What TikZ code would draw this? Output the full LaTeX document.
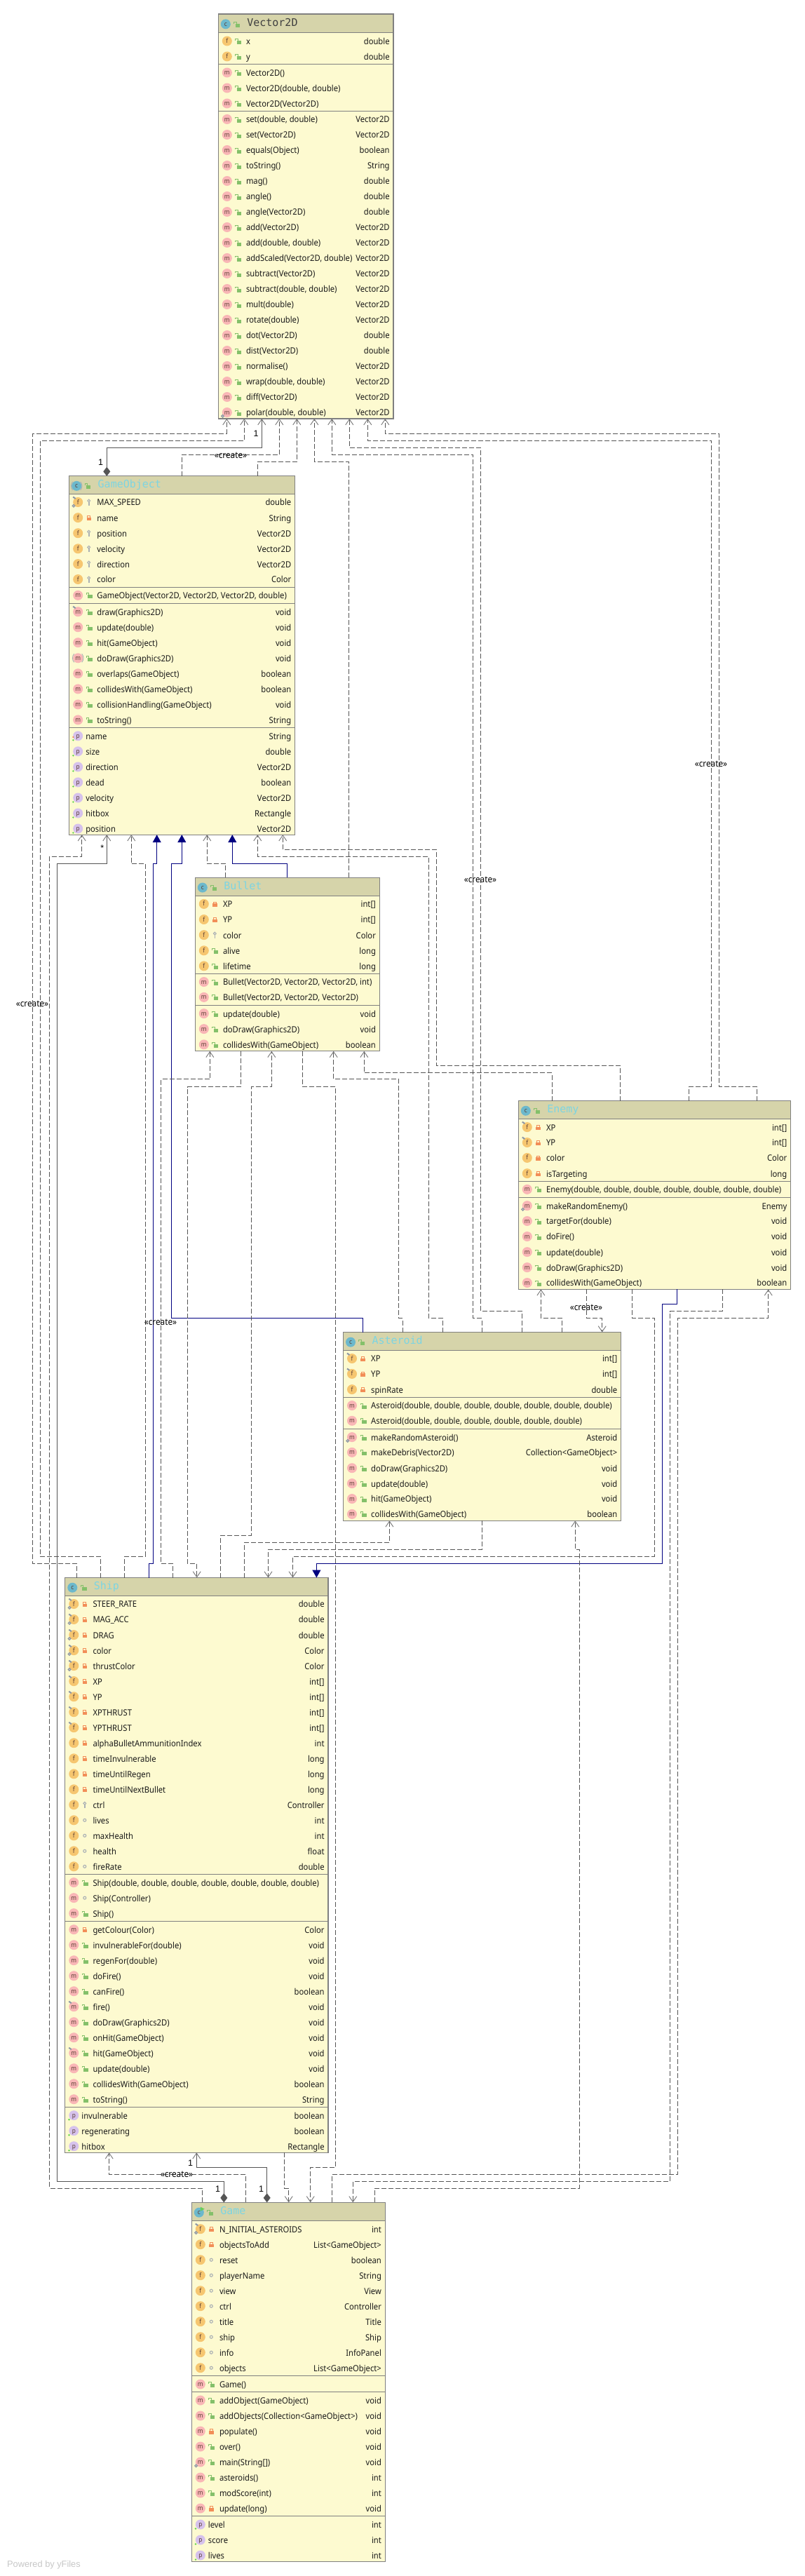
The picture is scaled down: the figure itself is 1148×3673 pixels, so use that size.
\documentclass[tikz,border=0pt]{standalone}
\usepackage{fontspec}
\setmainfont{Noto Sans}[FakeStretch=0.92]
\newfontfamily\titlefnt{DejaVu Sans Mono}
\newfontfamily\yfnt{Liberation Sans}
\usetikzlibrary{arrows.meta}
\definecolor{hdrc}{RGB}{214,212,170}
\definecolor{bodyc}{RGB}{253,250,208}
\definecolor{bordc}{RGB}{128,128,128}
\definecolor{fcol}{RGB}{246,198,112}
\definecolor{mcol}{RGB}{249,182,182}
\definecolor{pcol}{RGB}{214,194,236}
\definecolor{ccol}{RGB}{108,184,204}
\definecolor{lockg}{RGB}{132,192,106}
\definecolor{locko}{RGB}{242,142,88}
\definecolor{keyc}{RGB}{170,176,180}
\definecolor{depc}{RGB}{85,85,85}
\definecolor{inhc}{RGB}{0,0,128}
\definecolor{titc}{RGB}{125,212,226}
\definecolor{lett}{RGB}{90,60,50}
\definecolor{ovc}{RGB}{140,150,165}
\newcounter{rc}
\newcommand{\bL}{0}\newcommand{\bR}{0}
% icons (local coordinates, y down)
\newcommand{\icof}{\fill[fcol] (0,0) circle (7pt);\node[iconletter] (i\arabic{rc}) at (0,3) {f};}
\newcommand{\icom}{\fill[mcol] (0,0) circle (7pt);\node[iconletter] (i\arabic{rc}) at (0,3) {m};}
\newcommand{\ovN}{}
\newcommand{\ovF}{\draw[ovc,line width=2pt] (-7,-7.5) -- (-3.5,-5);}
\newcommand{\ovS}{\draw[ovc,line width=1.1pt,fill=bodyc!60!ovc] (-6.2,5.3) circle (1.9pt);}
\newcommand{\ovFS}{\ovF\ovS}
\newcommand{\ovA}{\draw[keyc,line width=.9pt] (-5.5,-6) .. controls (-8.5,-3) and (-8.5,3) .. (-5.5,6);\draw[keyc,line width=.9pt] (5.5,-6) .. controls (8.5,-3) and (8.5,3) .. (5.5,6);}
\newcommand{\visu}{\fill[lockg] (-1.5,-0.5) rectangle (5,4.5);\draw[lockg,line width=.9pt] (0,-0.5) -- (0,-3) -- (-3.4,-3) -- (-3.4,-0.8);}
\newcommand{\visl}{\fill[locko] (-3.2,-0.5) rectangle (3.2,4);\draw[locko,line width=1pt] (-2,-0.5) -- (-2,-2.6) -- (2,-2.6) -- (2,-0.5);}
\newcommand{\visk}{\draw[keyc,line width=1.1pt] (0,-2) circle (1.9pt);\fill[keyc] (-0.8,0) rectangle (0.8,4.5);}
\newcommand{\viso}{\draw[keyc,line width=1.1pt] (0,0) circle (2pt);}
% one row: y, kind, overlay, visibility, text, type
\newcommand{\rw}[6]{\stepcounter{rc}%
 \begin{scope}[shift={({\bL+12.5},{#1-0.5})}]\csname ico#2\endcsname\csname ov#3\endcsname\end{scope}%
 \begin{scope}[shift={({\bL+28},{#1-0.5})}]\csname vis#4\endcsname\end{scope}%
 \node[rowtext,anchor=base west] (n\arabic{rc}) at ({\bL+39.7},{#1+4.4}) {#5};%
 \node[rowtext,anchor=base east] (v\arabic{rc}) at ({\bR-5.4},{#1+4.4}) {#6};}
% property row: y, text, type
\newcommand{\rwp}[3]{\stepcounter{rc}%
 \begin{scope}[shift={({\bL+12.5},{#1-0.5})}]\fill[pcol] (0,0) circle (7pt);\node[iconletter] (i\arabic{rc}) at (0,3) {p};\fill[lockg!70!green] (-6.8,6) circle (1.3pt);\end{scope}%
 \node[rowtext,anchor=base west] (n\arabic{rc}) at ({\bL+23.6},{#1+4.4}) {#2};%
 \node[rowtext,anchor=base east] (v\arabic{rc}) at ({\bR-5.4},{#1+4.4}) {#3};}
\newcommand{\sepln}[1]{\draw[sepline] (\bL,#1) -- (\bR,#1);}
% name, L, R, T, H, B, title, title colour, extra icon code
\newcommand{\classbox}[9]{%
 \gdef\bL{#2}\gdef\bR{#3}%
 \node[boxbody,anchor=north west,minimum width={(#3-#2)*1pt},minimum height={(#6-#4)*1pt}] (#1) at (#2,#4) {};%
 \fill[hdrc] (#2,#4) rectangle (#3,#5);%
 \draw[sepline,line width=1.2pt] (#2,#5) -- (#3,#5);%
 \draw[bordc,line width=1.2pt] (#1.north west) rectangle (#1.south east);%
 \begin{scope}[shift={({#2+10.5},{(#4+#5)/2+1.2})}]\fill[ccol] (0,0) circle (7pt);\node[iconletter] (#1c) at (0,3) {c};#9\end{scope}%
 \begin{scope}[shift={({#2+25.7},{(#4+#5)/2+1.2})}]\visu\end{scope}%
 \node[classtitle,text=#8,anchor=base west] (#1t) at ({#2+41},{(#4+#5)/2+4.2}) {#7};}
\begin{document}
\begin{tikzpicture}[x=1pt,y=-1pt,
 rowtext/.style={font=\fontsize{12.2}{14}\selectfont,text=black!90,inner sep=0pt,outer sep=0pt},
 iconletter/.style={font=\fontsize{9}{10}\selectfont,text=lett,inner sep=0pt,anchor=base},
 classtitle/.style={font=\titlefnt\fontsize{15}{17}\selectfont,inner sep=0pt,outer sep=0pt},
 boxbody/.style={fill=bodyc,draw=bordc,line width=1.2pt,inner sep=0pt,outer sep=0pt,rectangle},
 sepline/.style={draw=bordc,line width=1pt},
 dep/.style={draw=depc,line width=.9pt,dash pattern=on 7pt off 3pt,-{Straight Barb[length=8pt,width=11pt,line width=.9pt,color=depc!80!white]}},
 comp/.style={draw=depc,line width=1pt,{Diamond[length=13pt,width=10pt,fill=depc,color=depc]}-{Straight Barb[length=8pt,width=11pt,line width=.9pt,color=depc!80!white]}},
 inh/.style={draw=inhc,line width=1pt,-{Triangle[length=11pt,width=12pt,fill=inhc,color=inhc]}},
 linklabel/.style={font=\fontsize{12.8}{14}\selectfont,text=black,inner sep=0pt},
 numlabel/.style={font=\yfnt\fontsize{12.5}{14}\selectfont,text=black,inner sep=0pt},
 ]
\fill[white] (0,0) rectangle (1148,3673);
\useasboundingbox (0,0) rectangle (1148,3673);

% ---------- Vector2D
\classbox{vec}{311.3}{561}{20}{46.3}{597}{Vector2D}{black!75}{}
\rw{59}{f}{N}{u}{x}{double}
\rw{81}{f}{N}{u}{y}{double}
\sepln{91}
\rw{104}{m}{N}{u}{Vector2D()}{}
\rw{126}{m}{N}{u}{Vector2D(double, double)}{}
\rw{148}{m}{N}{u}{Vector2D(Vector2D)}{}
\sepln{158}
\rw{170.5}{m}{N}{u}{set(double, double)}{Vector2D}
\rw{192.5}{m}{N}{u}{set(Vector2D)}{Vector2D}
\rw{214.5}{m}{N}{u}{equals(Object)}{boolean}
\rw{236.5}{m}{N}{u}{toString()}{String}
\rw{258.5}{m}{N}{u}{mag()}{double}
\rw{280.5}{m}{N}{u}{angle()}{double}
\rw{302.5}{m}{N}{u}{angle(Vector2D)}{double}
\rw{324.5}{m}{N}{u}{add(Vector2D)}{Vector2D}
\rw{346.5}{m}{N}{u}{add(double, double)}{Vector2D}
\rw{368.5}{m}{N}{u}{addScaled(Vector2D, double)}{Vector2D}
\rw{390.5}{m}{N}{u}{subtract(Vector2D)}{Vector2D}
\rw{412.5}{m}{N}{u}{subtract(double, double)}{Vector2D}
\rw{434.5}{m}{N}{u}{mult(double)}{Vector2D}
\rw{456.5}{m}{N}{u}{rotate(double)}{Vector2D}
\rw{478.5}{m}{N}{u}{dot(Vector2D)}{double}
\rw{500.5}{m}{N}{u}{dist(Vector2D)}{double}
\rw{522.5}{m}{N}{u}{normalise()}{Vector2D}
\rw{544.5}{m}{N}{u}{wrap(double, double)}{Vector2D}
\rw{566.5}{m}{N}{u}{diff(Vector2D)}{Vector2D}
\rw{588.5}{m}{S}{u}{polar(double, double)}{Vector2D}

% ---------- GameObject
\classbox{gobj}{98.7}{420.7}{678.8}{704.5}{1190.2}{GameObject}{titc}{\ovA}
\rw{716.5}{f}{FS}{k}{MAX\_SPEED}{double}
\rw{738.6}{f}{N}{l}{name}{String}
\rw{760.7}{f}{N}{k}{position}{Vector2D}
\rw{782.8}{f}{N}{k}{velocity}{Vector2D}
\rw{804.6}{f}{N}{k}{direction}{Vector2D}
\rw{826.5}{f}{N}{k}{color}{Color}
\sepln{837.6}
\rw{849.4}{m}{N}{u}{GameObject(Vector2D, Vector2D, Vector2D, double)}{}
\sepln{860.4}
\rw{872.7}{m}{F}{u}{draw(Graphics2D)}{void}
\rw{894.7}{m}{N}{u}{update(double)}{void}
\rw{916.7}{m}{N}{u}{hit(GameObject)}{void}
\rw{938.8}{m}{A}{u}{doDraw(Graphics2D)}{void}
\rw{960.8}{m}{N}{u}{overlaps(GameObject)}{boolean}
\rw{982.9}{m}{N}{u}{collidesWith(GameObject)}{boolean}
\rw{1004.9}{m}{N}{u}{collisionHandling(GameObject)}{void}
\rw{1026.9}{m}{N}{u}{toString()}{String}
\sepln{1037.6}
\rwp{1049.8}{name}{String}
\fill[locko] ({\bL+5.7},1051) circle (1.3pt);
\rwp{1071.8}{size}{double}
\rwp{1093.9}{direction}{Vector2D}
\rwp{1115.9}{dead}{boolean}
\rwp{1138}{velocity}{Vector2D}
\rwp{1160}{hitbox}{Rectangle}
\rwp{1182}{position}{Vector2D}

% ---------- Bullet
\classbox{bull}{278.3}{541.3}{1251.4}{1277.3}{1498.8}{Bullet}{titc}{}
\rw{1289.4}{f}{N}{l}{XP}{int[]}
\rw{1311.5}{f}{N}{l}{YP}{int[]}
\rw{1333.6}{f}{N}{k}{color}{Color}
\rw{1355.8}{f}{N}{u}{alive}{long}
\rw{1377.8}{f}{N}{u}{lifetime}{long}
\sepln{1388.5}
\rw{1400.5}{m}{N}{u}{Bullet(Vector2D, Vector2D, Vector2D, int)}{}
\rw{1422.4}{m}{N}{u}{Bullet(Vector2D, Vector2D, Vector2D)}{}
\sepln{1433.6}
\rw{1445.6}{m}{N}{u}{update(double)}{void}
\rw{1467.6}{m}{N}{u}{doDraw(Graphics2D)}{void}
\rw{1489.8}{m}{N}{u}{collidesWith(GameObject)}{boolean}

% ---------- Enemy
\classbox{enem}{739.3}{1127.7}{1569.6}{1595.5}{1838.4}{Enemy}{titc}{}
\rw{1607.6}{f}{F}{l}{XP}{int[]}
\rw{1629.5}{f}{F}{l}{YP}{int[]}
\rw{1651.4}{f}{N}{l}{color}{Color}
\rw{1673.6}{f}{N}{l}{isTargeting}{long}
\sepln{1684.4}
\rw{1696.4}{m}{N}{u}{Enemy(double, double, double, double, double, double, double)}{}
\sepln{1707.6}
\rw{1719.6}{m}{S}{u}{makeRandomEnemy()}{Enemy}
\rw{1741.5}{m}{N}{u}{targetFor(double)}{void}
\rw{1763.5}{m}{N}{u}{doFire()}{void}
\rw{1785.6}{m}{N}{u}{update(double)}{void}
\rw{1807.6}{m}{N}{u}{doDraw(Graphics2D)}{void}
\rw{1829.5}{m}{N}{u}{collidesWith(GameObject)}{boolean}

% ---------- Asteroid
\classbox{ast}{489.5}{885.7}{1899.5}{1925.4}{2168.3}{Asteroid}{titc}{}
\rw{1937.5}{f}{F}{l}{XP}{int[]}
\rw{1959.4}{f}{F}{l}{YP}{int[]}
\rw{1981.6}{f}{N}{l}{spinRate}{double}
\sepln{1992.4}
\rw{2004.5}{m}{N}{u}{Asteroid(double, double, double, double, double, double, double)}{}
\rw{2026.3}{m}{N}{u}{Asteroid(double, double, double, double, double, double)}{}
\sepln{2037.5}
\rw{2049.6}{m}{S}{u}{makeRandomAsteroid()}{Asteroid}
\rw{2071.4}{m}{N}{u}{makeDebris(Vector2D)}{Collection<GameObject>}
\rw{2093.7}{m}{N}{u}{doDraw(Graphics2D)}{void}
\rw{2115.6}{m}{N}{u}{update(double)}{void}
\rw{2137.5}{m}{N}{u}{hit(GameObject)}{void}
\rw{2159.4}{m}{N}{u}{collidesWith(GameObject)}{boolean}

% ---------- Ship
\classbox{ship}{92.8}{468}{2249.5}{2275.5}{3069.3}{Ship}{titc}{}
\rw{2287.5}{f}{FS}{l}{STEER\_RATE}{double}
\rw{2309.5}{f}{FS}{l}{MAG\_ACC}{double}
\rw{2331.6}{f}{FS}{l}{DRAG}{double}
\rw{2353.6}{f}{FS}{l}{color}{Color}
\rw{2375.6}{f}{FS}{l}{thrustColor}{Color}
\rw{2397.6}{f}{F}{l}{XP}{int[]}
\rw{2419.7}{f}{F}{l}{YP}{int[]}
\rw{2441.7}{f}{F}{l}{XPTHRUST}{int[]}
\rw{2463.7}{f}{F}{l}{YPTHRUST}{int[]}
\rw{2485.7}{f}{N}{l}{alphaBulletAmmunitionIndex}{int}
\rw{2507.8}{f}{N}{l}{timeInvulnerable}{long}
\rw{2529.8}{f}{N}{l}{timeUntilRegen}{long}
\rw{2551.8}{f}{N}{l}{timeUntilNextBullet}{long}
\rw{2573.8}{f}{N}{k}{ctrl}{Controller}
\rw{2595.8}{f}{N}{o}{lives}{int}
\rw{2617.8}{f}{N}{o}{maxHealth}{int}
\rw{2639.8}{f}{N}{o}{health}{float}
\rw{2661.8}{f}{N}{o}{fireRate}{double}
\sepln{2672.2}
\rw{2684.6}{m}{N}{u}{Ship(double, double, double, double, double, double, double)}{}
\rw{2706.6}{m}{N}{o}{Ship(Controller)}{}
\rw{2728.6}{m}{N}{u}{Ship()}{}
\sepln{2739.3}
\rw{2751.7}{m}{N}{l}{getColour(Color)}{Color}
\rw{2773.7}{m}{N}{u}{invulnerableFor(double)}{void}
\rw{2795.7}{m}{N}{u}{regenFor(double)}{void}
\rw{2817.7}{m}{N}{u}{doFire()}{void}
\rw{2839.7}{m}{N}{u}{canFire()}{boolean}
\rw{2861.7}{m}{F}{u}{fire()}{void}
\rw{2883.7}{m}{N}{u}{doDraw(Graphics2D)}{void}
\rw{2905.7}{m}{N}{u}{onHit(GameObject)}{void}
\rw{2927.7}{m}{F}{u}{hit(GameObject)}{void}
\rw{2949.7}{m}{N}{u}{update(double)}{void}
\rw{2971.7}{m}{N}{u}{collidesWith(GameObject)}{boolean}
\rw{2993.7}{m}{N}{u}{toString()}{String}
\sepln{3004.3}
\rwp{3016.7}{invulnerable}{boolean}
\rwp{3038.7}{regenerating}{boolean}
\rwp{3060.7}{hitbox}{Rectangle}

% ---------- Game
\classbox{game}{273.3}{549.3}{3140.3}{3166.6}{3652.2}{Game}{titc}{\fill[lockg!80!green] (2,-8) -- (8,-5) -- (2,-2) -- cycle;}
\rw{3178.7}{f}{FS}{l}{N\_INITIAL\_ASTEROIDS}{int}
\rw{3200.7}{f}{N}{l}{objectsToAdd}{List<GameObject>}
\rw{3222.7}{f}{N}{o}{reset}{boolean}
\rw{3244.7}{f}{N}{o}{playerName}{String}
\rw{3266.7}{f}{N}{o}{view}{View}
\rw{3288.7}{f}{N}{o}{ctrl}{Controller}
\rw{3310.7}{f}{N}{o}{title}{Title}
\rw{3332.7}{f}{N}{o}{ship}{Ship}
\rw{3354.7}{f}{N}{o}{info}{InfoPanel}
\rw{3376.7}{f}{N}{o}{objects}{List<GameObject>}
\sepln{3387.5}
\rw{3400}{m}{N}{u}{Game()}{}
\sepln{3410.6}
\rw{3423}{m}{N}{u}{addObject(GameObject)}{void}
\rw{3445}{m}{N}{u}{addObjects(Collection<GameObject>)}{void}
\rw{3467}{m}{N}{l}{populate()}{void}
\rw{3489}{m}{N}{u}{over()}{void}
\rw{3511}{m}{S}{u}{main(String[])}{void}
\rw{3533}{m}{N}{u}{asteroids()}{int}
\rw{3555}{m}{N}{u}{modScore(int)}{int}
\rw{3577}{m}{N}{l}{update(long)}{void}
\sepln{3587.6}
\rwp{3600}{level}{int}
\rwp{3622}{score}{int}
\rwp{3644}{lives}{int}

% ---------- connectors into Vector2D
\draw[dep] (109.6,0 |- ship.north) -- (109.6,2229.3) -- (46.5,2229.3) -- (46.5,618.3) -- (323.3,618.3) -- (323.3,0 |- vec.south);
\draw[dep] (143.6,0 |- ship.north) -- (143.6,2219.3) -- (57.4,2219.3) -- (57.4,628.3) -- (348.3,628.3) -- (348.3,0 |- vec.south);
\draw[comp] (152.3,0 |- gobj.north) -- (152.3,638.3) -- (373.3,638.3) -- (373.3,0 |- vec.south);
\draw[dep] (259.3,0 |- gobj.north) -- (259.3,648.3) -- (398.3,648.3) -- (398.3,0 |- vec.south);
\draw[dep] (367.3,0 |- gobj.north) -- (367.3,658.3) -- (423.3,658.3) -- (423.3,0 |- vec.south);
\draw[dep] (497.3,0 |- bull.north) -- (497.3,658.3) -- (448.3,658.3) -- (448.3,0 |- vec.south);
\draw[dep] (687.3,0 |- ast.north) -- (687.3,1879.6) -- (674.7,1879.6) -- (674.7,648.3) -- (473.3,648.3) -- (473.3,0 |- vec.south);
\draw[dep] (744.3,0 |- ast.north) -- (744.3,1869.3) -- (685.2,1869.3) -- (685.2,638.3) -- (498.3,638.3) -- (498.3,0 |- vec.south);
\draw[dep] (982.2,0 |- enem.north) -- (982.2,1549.6) -- (1014.8,1549.6) -- (1014.8,628.3) -- (524.3,628.3) -- (524.3,0 |- vec.south);
\draw[dep] (1079.7,0 |- enem.north) -- (1079.7,1549.6) -- (1025.3,1549.6) -- (1025.3,618.3) -- (549.3,618.3) -- (549.3,0 |- vec.south);

% ---------- connectors into GameObject
\draw[dep] (288.7,0 |- game.north) -- (288.7,3120.3) -- (70.7,3120.3) -- (70.7,1221.2) -- (116.7,1221.2) -- (116.7,0 |- gobj.south);
\draw[comp] (319.3,0 |- game.north) -- (319.3,3110.3) -- (81.7,3110.3) -- (81.7,1231.4) -- (152.3,1231.4) -- (152.3,0 |- gobj.south);
\draw[dep] (177.5,0 |- ship.north) -- (177.5,2219.3) -- (207.4,2219.3) -- (207.4,1231.4) -- (187.3,1231.4) -- (187.3,0 |- gobj.south);
\draw[inh] (212.5,0 |- ship.north) -- (212.5,2229.3) -- (218.3,2229.3) -- (218.3,1231.4) -- (223.7,1231.4) -- (223.7,0 |- gobj.south);
\draw[inh] (517.3,0 |- ast.north) -- (517.3,1879.6) -- (244.3,1879.6) -- (244.3,1231.4) -- (259.3,1231.4) -- (259.3,0 |- gobj.south);
\draw[dep] (321.7,0 |- bull.north) -- (321.7,1231.4) -- (295.3,1231.4) -- (295.3,0 |- gobj.south);
\draw[inh] (409.5,0 |- bull.north) -- (409.5,1231.4) -- (331.3,1231.4) -- (331.3,0 |- gobj.south);
\draw[dep] (631.7,0 |- ast.north) -- (631.7,1879.6) -- (611.7,1879.6) -- (611.7,1221.2) -- (367.3,1221.2) -- (367.3,0 |- gobj.south);
\draw[dep] (884.7,0 |- enem.north) -- (884.7,1519.3) -- (622.7,1519.3) -- (622.7,1211.4) -- (403.3,1211.4) -- (403.3,0 |- gobj.south);

% ---------- Bullet
\draw[dep] (246.4,0 |- ship.north) -- (246.4,2229.3) -- (229.3,2229.3) -- (229.3,1538.9) -- (299.3,1538.9) -- (299.3,0 |- bull.south);
\draw[dep] (343.3,0 |- bull.south) -- (343.3,1549.6) -- (267.4,1549.6) -- (267.4,2229.3) -- (280.7,2229.3) -- (280.7,0 |- ship.north);
\draw[dep] (314.6,0 |- ship.north) -- (314.6,2189.3) -- (358.2,2189.3) -- (358.2,1549.6) -- (387.3,1549.6) -- (387.3,0 |- bull.south);
\draw[dep] (431.3,0 |- bull.south) -- (431.3,1549.6) -- (478.3,1549.6) -- (478.3,3090.3) -- (442.7,3090.3) -- (442.7,0 |- game.north);
\draw[dep] (574.3,0 |- ast.north) -- (574.3,1879.6) -- (568.7,1879.6) -- (568.7,1538.9) -- (475.7,1538.9) -- (475.7,0 |- bull.south);
\draw[dep] (787.2,0 |- enem.north) -- (787.2,1529.6) -- (519.3,1529.6) -- (519.3,0 |- bull.south);

% ---------- Enemy
\draw[dep] (801.6,0 |- ast.north) -- (801.6,1879.6) -- (771.4,1879.6) -- (771.4,0 |- enem.south);
\draw[dep] (836.3,0 |- enem.south) -- (836.3,1879.6) -- (858.7,1879.6) -- (858.7,0 |- ast.north);
\draw[dep] (901.3,0 |- enem.south) -- (901.3,1879.6) -- (933.3,1879.6) -- (933.3,2219.4) -- (417.5,2219.4) -- (417.5,0 |- ship.north);
\draw[inh] (965.7,0 |- enem.south) -- (965.7,1859) -- (944.3,1859) -- (944.3,2229.4) -- (451.4,2229.4) -- (451.4,0 |- ship.north);
\draw[dep] (1030.7,0 |- enem.south) -- (1030.7,1869.6) -- (955.3,1869.6) -- (955.3,3110.4) -- (503.3,3110.4) -- (503.3,0 |- game.north);
\draw[dep] (473.7,0 |- game.north) -- (473.7,3100.6) -- (966.5,3100.6) -- (966.5,1879.6) -- (1095.7,1879.6) -- (1095.7,0 |- enem.south);

% ---------- Asteroid
\draw[dep] (348.2,0 |- ship.north) -- (348.2,2199.3) -- (555.4,2199.3) -- (555.4,0 |- ast.south);
\draw[dep] (687.7,0 |- ast.south) -- (687.7,2209.3) -- (382.5,2209.3) -- (382.5,0 |- ship.north);
\draw[dep] (534.3,0 |- game.north) -- (534.3,3120.4) -- (826.3,3120.4) -- (826.3,2209.3) -- (820.3,2209.3) -- (820.3,0 |- ast.south);

% ---------- Ship / Game
\draw[dep] (350.3,0 |- game.north) -- (350.3,3100.3) -- (155.7,3100.3) -- (155.7,0 |- ship.south);
\draw[comp] (380.7,0 |- game.north) -- (380.7,3090.3) -- (280.3,3090.3) -- (280.3,0 |- ship.south);
\draw[dep] (405.7,0 |- ship.south) -- (405.7,3120.3) -- (411.7,3120.3) -- (411.7,0 |- game.north);

% ---------- labels
\node[linklabel] (lc1) at (329,649) {«create»};
\node[linklabel] (lc2) at (685,1254) {«create»};
\node[linklabel] (lc3) at (1014,1089) {«create»};
\node[linklabel] (lc4) at (836,1864) {«create»};
\node[linklabel] (lc5) at (229,1885) {«create»};
\node[linklabel] (lc6) at (46,1431) {«create»};
\node[linklabel] (lc7) at (252,3100.5) {«create»};
\node[numlabel] (ln1) at (365,617.7) {1};
\node[numlabel] (ln2) at (143.7,659) {1};
\node[numlabel] (ln3) at (145.7,1209) {*};
\node[numlabel] (ln4) at (271.7,3084.3) {1};
\node[numlabel] (ln5) at (310.7,3120.7) {1};
\node[numlabel] (ln6) at (372.7,3120.7) {1};
\node[font=\yfnt\fontsize{12.8}{14}\selectfont,text=black!22,anchor=west,inner sep=0pt] (yf) at (10,3656.7) {Powered by yFiles};
\end{tikzpicture}
\end{document}
